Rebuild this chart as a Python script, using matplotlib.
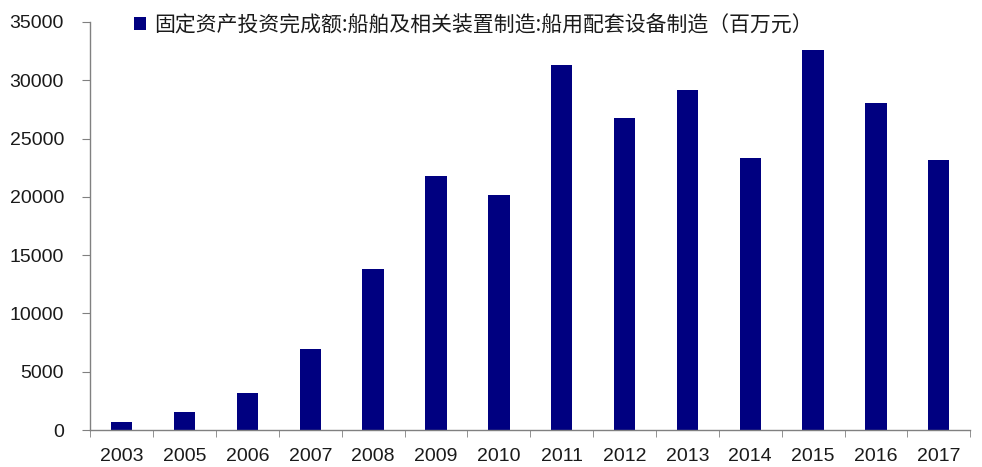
import matplotlib.pyplot as plt
import numpy as np

plt.rcParams['font.family'] = ['Liberation Sans', 'Noto Sans CJK SC', 'DejaVu Sans']

years = ['2003', '2005', '2006', '2007', '2008', '2009', '2010',
         '2011', '2012', '2013', '2014', '2015', '2016', '2017']
invest = [690, 1540, 3170, 6950, 13800, 21780, 20150,
          31300, 26730, 29190, 23350, 32560, 28040, 23180]
label = '固定资产投资完成额:船舶及相关装置制造:船用配套设备制造（百万元）'

fig = plt.figure(figsize=(9.82, 4.67), dpi=100)
ax = fig.add_axes([0.092, 0.079, 0.896, 0.874])

x = np.arange(len(years))
ax.bar(x, invest, width=0.34, color='#000080', label=label)

ax.set_xlim(-0.5, len(years) - 0.5)
ax.set_ylim(0, 35000)
ax.set_yticks(range(0, 35001, 5000))
ax.set_xticks(x)
ax.set_xticklabels(years)
ax.set_xticks(np.arange(-0.5, len(years), 1), minor=True)

for s in ['top', 'right']:
    ax.spines[s].set_visible(False)
for s in ['left', 'bottom']:
    ax.spines[s].set_color('#808080')
    ax.spines[s].set_linewidth(1.0)

ax.tick_params(axis='y', direction='out', length=6, color='#808080',
               labelsize=14, labelcolor='#1a1a1a', pad=13)
ax.tick_params(axis='x', which='major', length=0, labelsize=14,
               labelcolor='#1a1a1a', pad=13)
ax.tick_params(axis='x', which='minor', direction='out', length=5,
               color='#808080')

leg = ax.legend(loc='upper left', bbox_to_anchor=(0.028, 1.065), frameon=False,
                handlelength=0.6, handleheight=0.6, handletextpad=0.4,
                prop={'family': ['Noto Sans CJK SC', 'DejaVu Sans'], 'size': 15})
for t in leg.get_texts():
    t.set_color('#1a1a1a')

fig.savefig('out.png', dpi=100)
